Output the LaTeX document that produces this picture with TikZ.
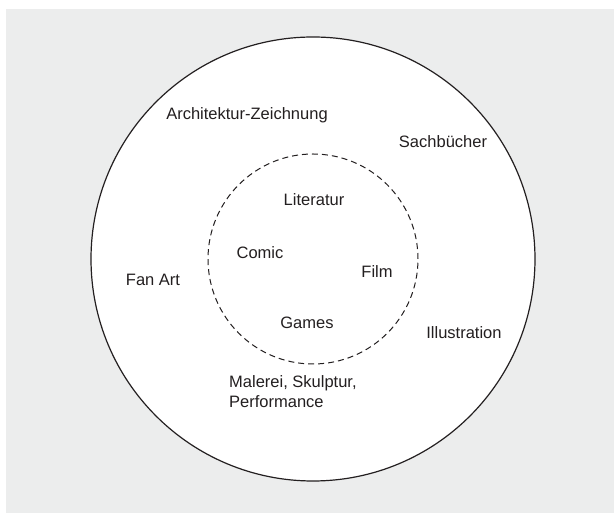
\documentclass[tikz,border=0pt]{standalone}
\usepackage{fontspec}
\setmainfont{Liberation Sans}
\usepackage{xcolor}
\usepackage{tikz}
\definecolor{hintergrund}{RGB}{236,237,237}
\definecolor{schrift}{RGB}{35,31,32}
\tikzset{
  feld/.style={text=schrift, font=\fontsize{16.5}{20}\selectfont, inner sep=0pt},
  ring/.style={draw=schrift, line width=1.2pt, fill=white},
  kern/.style={draw=schrift, line width=1pt, dash pattern=on 6pt off 4pt},
}

\begin{document}
\begin{tikzpicture}[x=1pt, y=1pt]
\useasboundingbox (0,0) rectangle (614,513);
\fill[hintergrund] (6,0) rectangle (614,504);
\coordinate (M) at (313,254);
\draw[ring] (M) circle[radius=222];
\draw[kern] (M) circle[radius=105];
\node[feld] (architektur) at (247,398) {Architektur-Zeichnung};
\node[feld] (sachbuecher) at (443,371) {Sachbücher};
\node[feld] (literatur) at (314,313) {Literatur};
\node[feld] (comic) at (260,260) {Comic};
\node[feld] (film) at (377,241) {Film};
\node[feld] (fanart) at (153,233) {Fan Art};
\node[feld] (games) at (307,190) {Games};
\node[feld] (illustration) at (464,180) {Illustration};
\node[feld, anchor=west, align=left] (malerei) at (229,121) {Malerei, Skulptur,\\Performance};
\end{tikzpicture}
\end{document}
